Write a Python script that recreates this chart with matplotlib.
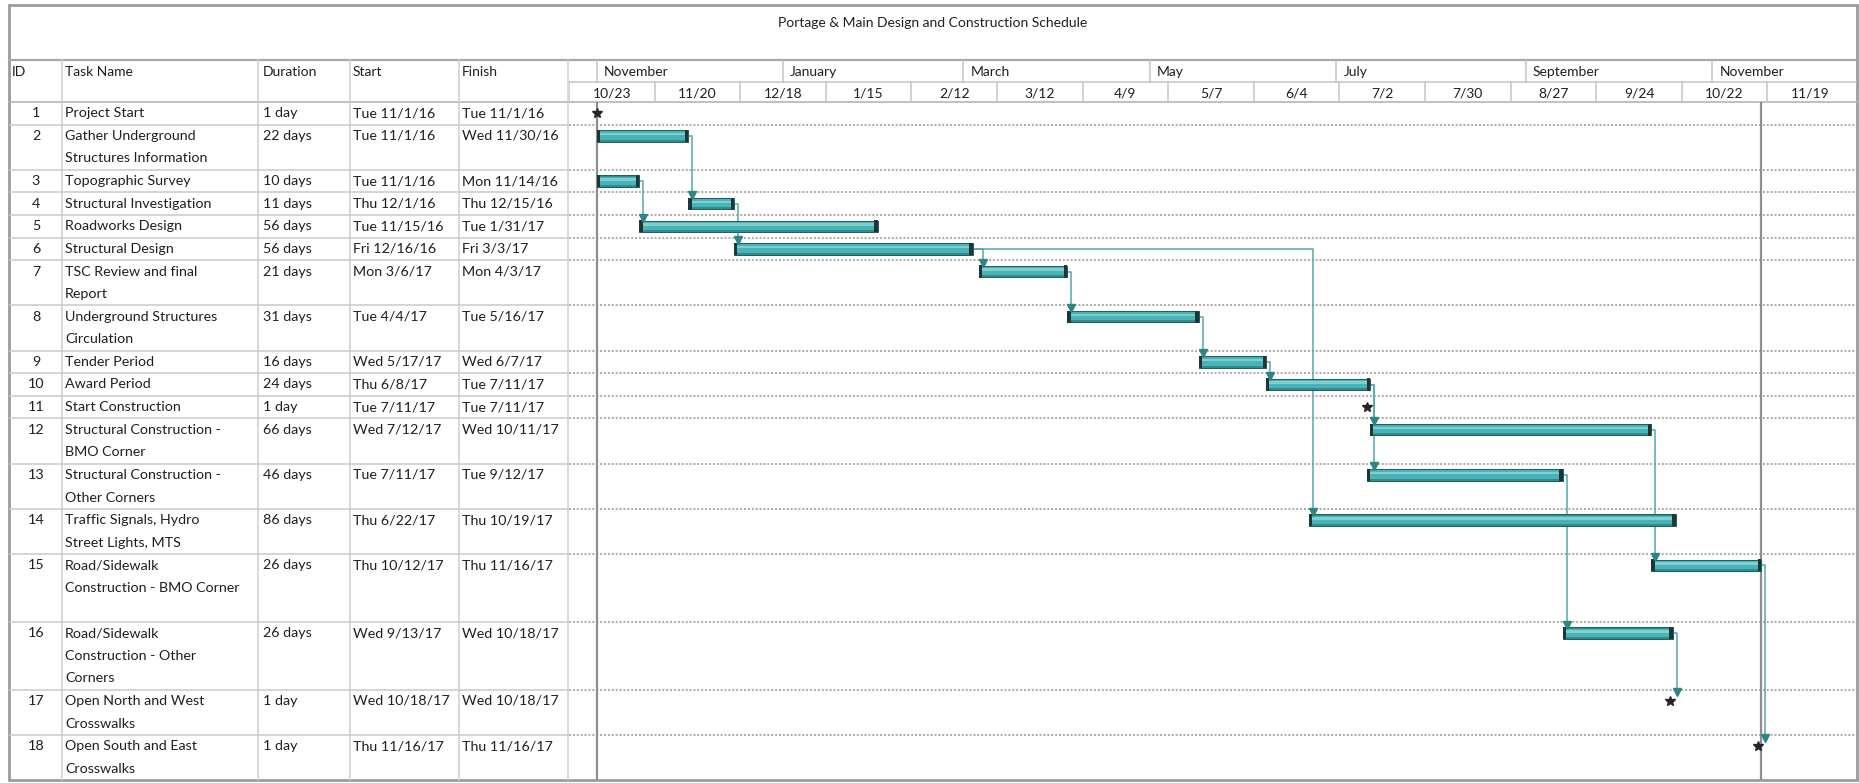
import datetime
import matplotlib
matplotlib.use("Agg")
import matplotlib.pyplot as plt
import matplotlib.dates as mdates
from matplotlib.patches import Rectangle

plt.rcParams['font.family'] = ['Lato', 'DejaVu Sans']

title = "Portage & Main Design and Construction Schedule"
col_headers = ["ID", "Task Name", "Duration", "Start", "Finish"]
task_ids = list(range(1, 19))
task_names = [
    "Project Start",
    "Gather Underground\nStructures Information",
    "Topographic Survey",
    "Structural Investigation",
    "Roadworks Design",
    "Structural Design",
    "TSC Review and final\nReport",
    "Underground Structures\nCirculation",
    "Tender Period",
    "Award Period",
    "Start Construction",
    "Structural Construction -\nBMO Corner",
    "Structural Construction -\nOther Corners",
    "Traffic Signals, Hydro\nStreet Lights, MTS",
    "Road/Sidewalk\nConstruction - BMO Corner",
    "Road/Sidewalk\nConstruction - Other\nCorners",
    "Open North and West\nCrosswalks",
    "Open South and East\nCrosswalks",
]
durations = ["1 day", "22 days", "10 days", "11 days", "56 days", "56 days",
             "21 days", "31 days", "16 days", "24 days", "1 day", "66 days",
             "46 days", "86 days", "26 days", "26 days", "1 day", "1 day"]
starts = ["Tue 11/1/16", "Tue 11/1/16", "Tue 11/1/16", "Thu 12/1/16",
          "Tue 11/15/16", "Fri 12/16/16", "Mon 3/6/17", "Tue 4/4/17",
          "Wed 5/17/17", "Thu 6/8/17", "Tue 7/11/17", "Wed 7/12/17",
          "Tue 7/11/17", "Thu 6/22/17", "Thu 10/12/17", "Wed 9/13/17",
          "Wed 10/18/17", "Thu 11/16/17"]
finishes = ["Tue 11/1/16", "Wed 11/30/16", "Mon 11/14/16", "Thu 12/15/16",
            "Tue 1/31/17", "Fri 3/3/17", "Mon 4/3/17", "Tue 5/16/17",
            "Wed 6/7/17", "Tue 7/11/17", "Tue 7/11/17", "Wed 10/11/17",
            "Tue 9/12/17", "Thu 10/19/17", "Thu 11/16/17", "Wed 10/18/17",
            "Wed 10/18/17", "Thu 11/16/17"]
row_lines = [1, 2, 1, 1, 1, 1, 2, 2, 1, 1, 1, 2, 2, 2, 3, 3, 2, 2]
milestones = [1, 11, 17, 18]
links = [(2, 4), (3, 5), (4, 6), (6, 7), (6, 14), (7, 8), (8, 9), (9, 10),
         (10, 12), (10, 13), (12, 15), (13, 16), (16, 17), (15, 18)]

month_labels = ["November", "January", "March", "May", "July", "September", "November"]
month_starts = ["2016-11-01", "2017-01-01", "2017-03-01", "2017-05-01",
                "2017-07-01", "2017-09-01", "2017-11-01"]
week_starts = ["2016-10-23", "2016-11-20", "2016-12-18", "2017-01-15",
               "2017-02-12", "2017-03-12", "2017-04-09", "2017-05-07",
               "2017-06-04", "2017-07-02", "2017-07-30", "2017-08-27",
               "2017-09-24", "2017-10-22", "2017-11-19"]
view_start = "2016-10-23"
view_end = "2017-12-18 07:00"

# ---- layout (pixels of the 1859x783 picture) ----
W, H = 1859, 783
TEXT = "#1f1f1f"
GRID = "#c9c9c9"
FS = 10.3
border_l, border_r, border_t, border_b = 9, 1857, 5, 780
header_t, header_b, tier_mid = 60, 102, 82
col_lines = [62, 258, 350, 459, 568]
col_text_x = [12, 65, 263, 353, 462]
gantt_l = 569


def day(s):
    return datetime.datetime.strptime(s.split()[-1], "%m/%d/%y")


def num(s):
    return mdates.date2num(datetime.datetime.fromisoformat(s))


def fx(px):
    return px / W


def fy(py):
    return 1 - py / H


start_n = [mdates.date2num(day(s)) for s in starts]
end_n = [mdates.date2num(day(f)) + 1 for f in finishes]
row_top = [sum(row_lines[:i]) for i in range(len(row_lines))]
total_lines = sum(row_lines)
xv = (num(view_start), num(view_end))

fig = plt.figure(figsize=(W / 100, H / 100), dpi=100)

# background axes in pixel units: title, frame, table header
ax_bg = fig.add_axes([0, 0, 1, 1])
ax_bg.set_xlim(0, W)
ax_bg.set_ylim(H, 0)
ax_bg.axis("off")
ax_bg.add_patch(Rectangle((border_l, border_t), border_r - border_l, border_b - border_t,
                          fill=False, edgecolor="#9c9c9c", lw=2))
ax_bg.plot([border_l, border_r], [header_t, header_t], color="#a8a8a8", lw=1.6)
ax_bg.plot([border_l, border_r], [header_b, header_b], color="#b5b5b5", lw=1.2)
ax_bg.text((border_l + border_r) / 2, 23, title, ha="center", va="center",
           fontsize=FS - 0.3, color=TEXT)
for x in col_lines:
    ax_bg.plot([x, x], [header_t, border_b], color="#cfcfcf", lw=1.1)
for x, h in zip(col_text_x, col_headers):
    ax_bg.text(x, 72, h, ha="left", va="center", fontsize=FS - 0.3, color=TEXT)

# timescale header
ax_h = fig.add_axes([fx(gantt_l), fy(header_b), fx(border_r) - fx(gantt_l),
                     (header_b - header_t) / H])
ax_h.set_xlim(*xv)
ax_h.set_ylim(header_b - header_t, 0)
ax_h.axis("off")
mid = tier_mid - header_t
ax_h.axhline(mid, color="#c4c4c4", lw=1.1)
for d, lab in zip(month_starts, month_labels):
    ax_h.plot([num(d), num(d)], [0, mid], color="#c4c4c4", lw=1.1)
    ax_h.text(num(d) + 2.3, mid / 2 + 1, lab, ha="left", va="center",
              fontsize=FS - 0.3, color=TEXT)
for d in week_starts:
    ax_h.plot([num(d), num(d)], [mid, header_b - header_t], color="#c4c4c4", lw=1.1)
    dt = datetime.datetime.fromisoformat(d)
    ax_h.text(num(d) + 14, (mid + header_b - header_t) / 2 + 1, f"{dt.month}/{dt.day}",
              ha="center", va="center", fontsize=FS - 0.3, color=TEXT)

# table body
ax_t = fig.add_axes([fx(border_l), fy(border_b), fx(col_lines[-1]) - fx(border_l),
                     (border_b - header_b) / H])
ax_t.set_xlim(border_l, col_lines[-1])
ax_t.set_ylim(total_lines, 0)
ax_t.axis("off")
for i in range(len(task_ids)):
    top = row_top[i]
    if i > 0:
        ax_t.axhline(top, color=GRID, lw=1.1)
    ax_t.text(36, top + 0.5, str(task_ids[i]), ha="center", va="center",
              fontsize=FS, color=TEXT)
    for k, line in enumerate(task_names[i].split("\n")):
        ax_t.text(col_text_x[1], top + 0.5 + k, line, ha="left", va="center",
                  fontsize=FS, color=TEXT)
    for x, val in zip(col_text_x[2:], [durations[i], starts[i], finishes[i]]):
        ax_t.text(x, top + 0.5, val, ha="left", va="center", fontsize=FS, color=TEXT)

# gantt
ax_g = fig.add_axes([fx(gantt_l), fy(border_b), fx(border_r) - fx(gantt_l),
                     (border_b - header_b) / H])
ax_g.set_xlim(*xv)
ax_g.set_ylim(total_lines, 0)
ax_g.axis("off")
for top in row_top[1:]:
    ax_g.axhline(top, color="#a9a9a9", lw=1.4, linestyle=(0, (1, 1)))
ax_g.axvline(min(start_n), color="#8e8e8e", lw=1.6)
ax_g.axvline(max(end_n), color="#8e8e8e", lw=1.6)

BAR_H = 0.5
for i, tid in enumerate(task_ids):
    yc = row_top[i] + 0.5
    if tid in milestones:
        ax_g.plot(start_n[i], yc, marker="*", ms=7.5, color="#2a2228", zorder=5)
        continue
    w = end_n[i] - start_n[i]
    ax_g.barh(yc, w, left=start_n[i], height=BAR_H, color="#2f8c8f",
              edgecolor="#1f5c5e", lw=0.7, zorder=3)
    ax_g.barh(yc - 0.02, w, left=start_n[i], height=0.36, color="#48b4b7", lw=0, zorder=3)
    ax_g.barh(yc - 0.08, w, left=start_n[i], height=0.12, color="#7fcfd1", lw=0, zorder=3)
    ax_g.barh(yc, 1.1, left=start_n[i], height=BAR_H + 0.04, color="#1f3637", lw=0, zorder=4)
    ax_g.barh(yc, 1.1, left=end_n[i] - 1.1, height=BAR_H + 0.04, color="#1f3637", lw=0, zorder=4)

for p, s in links:
    ip, is_ = p - 1, s - 1
    yp = row_top[ip] + 0.5
    ys = row_top[is_] + 0.5 - BAR_H / 2
    xe = end_n[ip]
    xvl = max(xe, start_n[is_]) + 1.3
    ax_g.plot([xe, xvl, xvl], [yp, yp, ys - 0.1], color="#58a6a8", lw=1.1, zorder=2)
    ax_g.plot(xvl, ys - 0.13, marker="v", ms=6, color="#2f8487", zorder=5)

fig.savefig("out.png", dpi=100)
